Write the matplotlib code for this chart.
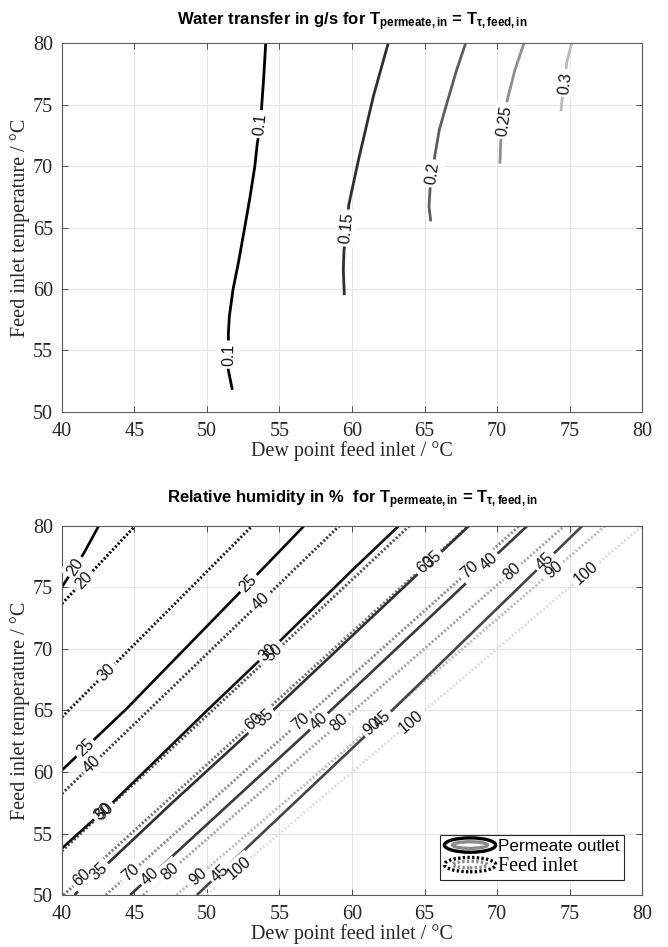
import numpy as np
import matplotlib
matplotlib.use("Agg")
import matplotlib.pyplot as plt
from matplotlib.patches import Ellipse
from matplotlib.legend_handler import HandlerBase
from matplotlib.lines import Line2D
from matplotlib.font_manager import FontProperties

plt.rcParams['mathtext.fontset'] = 'custom'
plt.rcParams['mathtext.rm'] = 'Liberation Sans'
plt.rcParams['mathtext.bf'] = 'Liberation Sans:bold'
plt.rcParams['mathtext.it'] = 'Liberation Sans:italic'

# ---------------- data ----------------
x_ticks = [40, 45, 50, 55, 60, 65, 70, 75, 80]
y_ticks = [50, 55, 60, 65, 70, 75, 80]

# Top chart: water transfer contour lines (dew point / feed inlet temperature)
wt_levels = ['0.1', '0.15', '0.2', '0.25', '0.3']
wt_010_dew = [51.75, 51.47, 51.50, 51.47, 51.54, 51.80, 52.16, 52.60, 52.97, 53.30, 53.47, 53.70, 53.77, 53.90, 54.05]
wt_010_feed = [51.8, 53.4, 55.0, 56.3, 57.76, 60.0, 62.1, 65.0, 67.5, 70.0, 71.85, 73.4, 74.85, 77.0, 80.0]
wt_015_dew = [59.47, 59.40, 59.45, 59.63, 59.78, 60.40, 61.47, 62.50]
wt_015_feed = [59.5, 61.57, 63.2, 64.96, 66.86, 70.25, 75.66, 80.0]
wt_020_dew = [65.43, 65.31, 65.38, 65.54, 65.72, 66.02, 66.53, 67.22, 67.84]
wt_020_feed = [65.5, 66.7, 68.07, 69.4, 70.9, 72.95, 75.06, 77.83, 80.0]
wt_025_dew = [70.20, 70.26, 70.50, 70.71, 71.24, 71.86]
wt_025_feed = [70.2, 72.0, 73.7, 75.39, 77.83, 80.0]
wt_030_dew = [74.41, 74.48, 74.69, 74.80, 75.15]
wt_030_feed = [74.45, 75.4, 76.75, 78.37, 80.0]
wt_label_feed = [[54.66, 73.4], [64.96], [69.4], [73.7], [76.75]]

# Bottom chart: relative humidity, permeate outlet (solid)
rh_perm_levels = ['20', '25', '30', '35', '40', '45']
rh_perm20_dew = [40.0, 41.5, 42.53]
rh_perm20_feed = [75.05, 77.77, 80.0]
rh_perm25_dew = [40.0, 44.5, 52.1, 56.69]
rh_perm25_feed = [60.15, 65.2, 74.4, 80.0]
rh_perm30_dew = [40.0, 43.57, 50.0, 54.96, 60.02, 63.22]
rh_perm30_feed = [53.8, 57.6, 65.0, 70.57, 76.41, 80.0]
rh_perm35_dew = [40.85, 47.6, 54.55, 61.3, 68.06]
rh_perm35_feed = [50.0, 57.5, 65.0, 72.5, 80.0]
rh_perm40_dew = [44.7, 57.72, 69.44, 72.08]
rh_perm40_feed = [50.0, 64.1, 77.09, 80.0]
rh_perm45_dew = [49.3, 62.1, 75.88]
rh_perm45_feed = [50.0, 64.25, 80.0]
rh_perm_label_feed = [[76.68], [61.94, 75.33], [56.8, 69.7], [51.91, 64.38, 77.23],
                      [51.5, 64.1, 77.09], [51.78, 64.24, 77.09]]

# Bottom chart: relative humidity, feed inlet (dotted)
rh_feed_levels = ['20', '30', '40', '50', '60', '70', '80', '90', '100']
rh_feed20_dew = [40.0, 41.05, 43.05, 45.04]
rh_feed20_feed = [73.68, 75.0, 77.5, 80.0]
rh_feed30_dew = [40.0, 40.45, 44.68, 48.90, 53.11]
rh_feed30_feed = [64.46, 65.0, 70.0, 75.0, 80.0]
rh_feed40_dew = [40.0, 41.55, 45.96, 50.35, 54.74, 59.12]
rh_feed40_feed = [58.24, 60.0, 65.0, 70.0, 75.0, 80.0]
rh_feed50_dew = [40.0, 41.29, 45.83, 50.37, 54.91, 59.43, 63.95]
rh_feed50_feed = [53.58, 55.0, 60.0, 65.0, 70.0, 75.0, 80.0]
rh_feed60_dew = [40.10, 44.77, 49.43, 54.09, 58.73, 63.38, 68.02]
rh_feed60_feed = [50.0, 55.0, 60.0, 65.0, 70.0, 75.0, 80.0]
rh_feed70_dew = [43.02, 47.78, 52.54, 57.30, 62.05, 66.80, 71.54]
rh_feed70_feed = [50.0, 55.0, 60.0, 65.0, 70.0, 75.0, 80.0]
rh_feed80_dew = [45.59, 50.44, 55.29, 60.13, 64.98, 69.82, 74.65]
rh_feed80_feed = [50.0, 55.0, 60.0, 65.0, 70.0, 75.0, 80.0]
rh_feed90_dew = [47.90, 52.83, 57.76, 62.68, 67.61, 72.53, 77.45]
rh_feed90_feed = [50.0, 55.0, 60.0, 65.0, 70.0, 75.0, 80.0]
rh_feed100_dew = [50.0, 65.0, 80.0]
rh_feed100_feed = [50.0, 65.0, 80.0]
rh_feed_label_feed = [[75.6], [68.1], [60.58, 73.83], [56.8, 69.7], [51.37, 64.1, 76.82],
                      [51.78, 64.1, 76.41], [51.91, 63.97, 76.28], [51.5, 63.7, 76.41],
                      [52.18, 64.1, 76.14]]

# ---------------- styling ----------------
SERIF = ['Liberation Serif', 'DejaVu Serif']
SANS = ['Liberation Sans', 'DejaVu Sans']
DOT = (0, (0.7, 0.7))

wt_lines = [(wt_010_dew, wt_010_feed), (wt_015_dew, wt_015_feed), (wt_020_dew, wt_020_feed),
            (wt_025_dew, wt_025_feed), (wt_030_dew, wt_030_feed)]
wt_colors = ['#000000', '#2e2e2e', '#5e5e5e', '#8e8e8e', '#bababa']

perm_lines = [(rh_perm20_dew, rh_perm20_feed), (rh_perm25_dew, rh_perm25_feed),
              (rh_perm30_dew, rh_perm30_feed), (rh_perm35_dew, rh_perm35_feed),
              (rh_perm40_dew, rh_perm40_feed), (rh_perm45_dew, rh_perm45_feed)]
perm_colors = ['#000000', '#050505', '#121212', '#303030', '#3a3a3a', '#454545']

feed_lines = [(rh_feed20_dew, rh_feed20_feed), (rh_feed30_dew, rh_feed30_feed),
              (rh_feed40_dew, rh_feed40_feed), (rh_feed50_dew, rh_feed50_feed),
              (rh_feed60_dew, rh_feed60_feed), (rh_feed70_dew, rh_feed70_feed),
              (rh_feed80_dew, rh_feed80_feed), (rh_feed90_dew, rh_feed90_feed),
              (rh_feed100_dew, rh_feed100_feed)]
feed_colors = ['#000000', '#1a1a1a', '#3a3a3a', '#555555', '#727272', '#8c8c8c',
               '#a4a4a4', '#bdbdbd', '#e0e0e0']

fig = plt.figure(figsize=(6.68, 9.47), dpi=100)
ax1 = fig.add_axes([0.0928, 0.565, 0.8683, 0.3895])
ax2 = fig.add_axes([0.0928, 0.0549, 0.8683, 0.3897])


def style_axes(ax, title):
    ax.set_xlim(40, 80)
    ax.set_ylim(50, 80)
    ax.set_xticks(x_ticks)
    ax.set_yticks(y_ticks)
    ax.grid(True, color='#e3e3e3', lw=0.7, zorder=0)
    ax.set_axisbelow(True)
    ax.tick_params(direction='in', length=4.5, width=0.7, color='#4a4a4a',
                   top=True, right=True, labelsize=14.5, labelcolor='#262626')
    ax.tick_params(axis='x', pad=7.5)
    ax.tick_params(axis='y', pad=6.5)
    for lab in ax.get_xticklabels() + ax.get_yticklabels():
        lab.set_family(SERIF)
    for sp in ax.spines.values():
        sp.set_color('#5a5a5a')
        sp.set_linewidth(0.8)
    ax.set_xlabel('Dew point feed inlet / °C', family=SERIF, fontsize=14.5,
                  color='#262626', labelpad=0)
    ax.set_ylabel('Feed inlet temperature / °C', family=SERIF, fontsize=14.5,
                  color='#262626', labelpad=2)
    ax.set_title(title, fontsize=12, fontweight='bold', family=SANS, pad=13)


style_axes(ax1, r'Water transfer in g/s for T$_{\mathbf{permeate,in}}$ = T$_{\mathbf{τ,feed,in}}$')
style_axes(ax2, r'Relative humidity in %  for T$_{\mathbf{permeate,in}}$ = T$_{\mathbf{τ,feed,in}}$')
ax2.title.set_y(1.0)
ax2.set_title(ax2.get_title(), fontsize=12, fontweight='bold', family=SANS, pad=16)

labels_to_draw = []


def add_line(ax, xs, ys, color, ls, lw, text, label_feeds, fs):
    ax.plot(xs, ys, color=color, ls=ls, lw=lw, solid_capstyle='butt',
            dash_capstyle='butt', zorder=2)
    for yf in label_feeds:
        labels_to_draw.append((ax, xs, ys, yf, text, fs))


for (xs, ys), c, t, lf in zip(wt_lines, wt_colors, wt_levels, wt_label_feed):
    add_line(ax1, xs, ys, c, '-', 2.0, t, lf, 11.5)

for (xs, ys), c, t, lf in zip(feed_lines, feed_colors, rh_feed_levels, rh_feed_label_feed):
    add_line(ax2, xs, ys, c, DOT, 2.1, t, lf, 11.5)

for (xs, ys), c, t, lf in zip(perm_lines, perm_colors, rh_perm_levels, rh_perm_label_feed):
    add_line(ax2, xs, ys, c, '-', 1.9, t, lf, 11.5)

# legend
class EllipseHandler(HandlerBase):
    def __init__(self, outer, inner, ls):
        super().__init__()
        self.outer, self.inner, self.ls = outer, inner, ls

    def create_artists(self, legend, orig_handle, xdescent, ydescent, width,
                       height, fontsize, trans):
        cx = 0.5 * width - xdescent
        cy = 0.5 * height - ydescent
        e1 = Ellipse((cx, cy), width, height * 1.2, fill=False, ec=self.outer,
                     lw=2.4, ls=self.ls, transform=trans)
        e2 = Ellipse((cx, cy), width * 0.68, height * 0.55, fill=False, ec=self.inner,
                     lw=2.4, ls=self.ls, transform=trans)
        return [e1, e2]


h1 = Line2D([], [])
h2 = Line2D([], [])
leg = ax2.legend([h1, h2], ['Permeate outlet', 'Feed inlet'],
                 handler_map={h1: EllipseHandler('#000000', '#8a8a8a', '-'),
                              h2: EllipseHandler('#000000', '#8a8a8a', DOT)},
                 loc='lower left', bbox_to_anchor=(0.652, 0.041), borderaxespad=0,
                 fancybox=False, framealpha=1, edgecolor='#262626',
                 prop={'family': SANS, 'size': 12.3}, handlelength=3.0,
                 handletextpad=0.15, labelspacing=0.15, borderpad=0.25)
leg.get_frame().set_linewidth(0.8)
leg.get_texts()[1].set_fontproperties(FontProperties(family=SERIF, size=14.5))
leg.set_zorder(6)

# contour labels (along the lines)
for ax, xs, ys, yf, text, fs in labels_to_draw:
    xf = float(np.interp(yf, ys, xs))
    x1, x2 = np.interp([yf - 0.6, yf + 0.6], ys, xs)
    p1 = ax.transData.transform((x1, yf - 0.6))
    p2 = ax.transData.transform((x2, yf + 0.6))
    ang = np.degrees(np.arctan2(p2[1] - p1[1], p2[0] - p1[0]))
    kw = dict(ha='center', va='center', rotation=ang, rotation_mode='anchor',
              fontsize=fs, family=SANS)
    ax.text(xf, yf, text, color='none', zorder=3,
            bbox=dict(fc='white', ec='none', pad=2.2), **kw)
    ax.text(xf, yf, text, color='#111111', zorder=4, **kw)

fig.savefig('out.png', dpi=100)
